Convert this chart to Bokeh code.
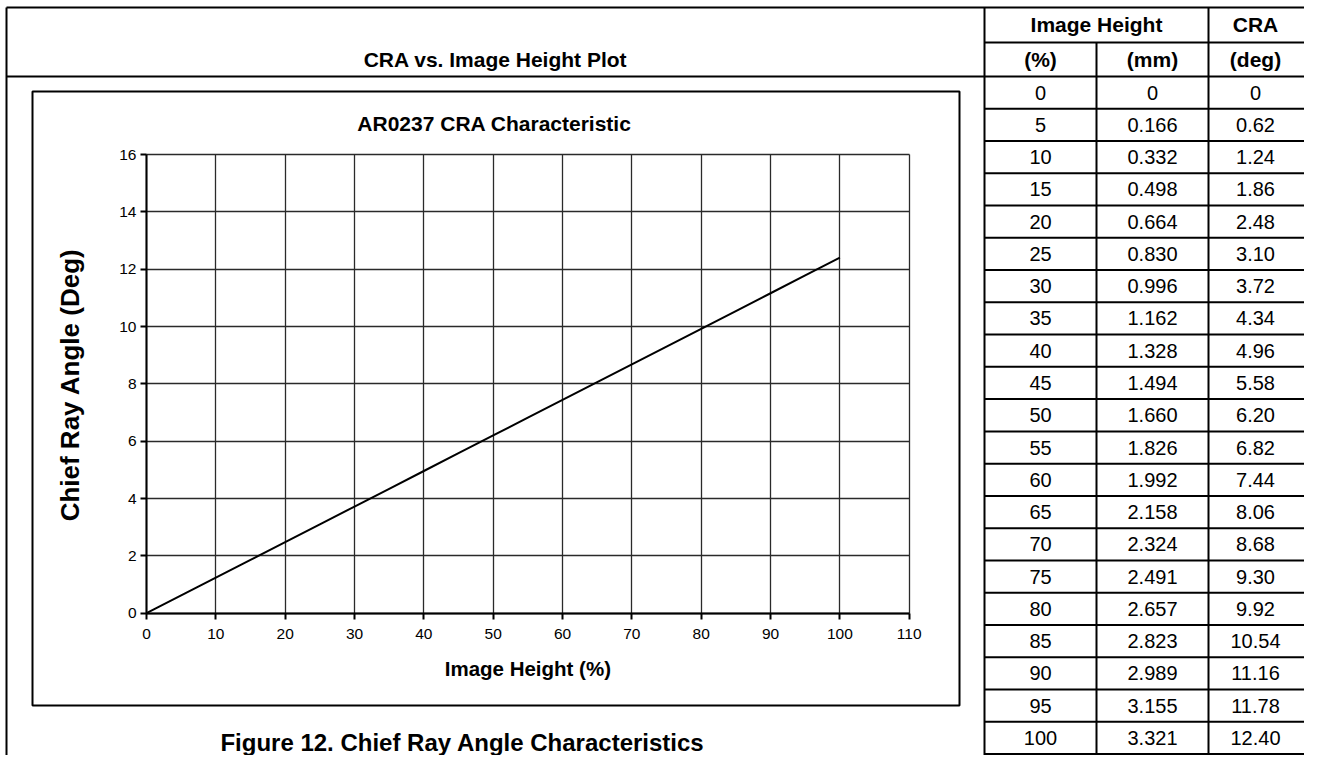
import math
from bokeh.plotting import figure
from bokeh.models import Range1d, LinearAxis, FixedTicker, Grid, Label
from bokeh.core.properties import value
from bokeh.embed import file_html
from bokeh.resources import INLINE

# ---------------- data ----------------
pct = [0, 5, 10, 15, 20, 25, 30, 35, 40, 45, 50, 55, 60, 65, 70, 75, 80, 85, 90, 95, 100]
mm_txt = ["0", "0.166", "0.332", "0.498", "0.664", "0.830", "0.996", "1.162", "1.328", "1.494",
          "1.660", "1.826", "1.992", "2.158", "2.324", "2.491", "2.657", "2.823", "2.989", "3.155", "3.321"]
cra_txt = ["0", "0.62", "1.24", "1.86", "2.48", "3.10", "3.72", "4.34", "4.96", "5.58",
           "6.20", "6.82", "7.44", "8.06", "8.68", "9.30", "9.92", "10.54", "11.16", "11.78", "12.40"]
cra = [float(v) for v in cra_txt]

x_ticks = [0, 10, 20, 30, 40, 50, 60, 70, 80, 90, 100, 110]
y_ticks = [0, 2, 4, 6, 8, 10, 12, 14, 16]

panel_title = "CRA vs. Image Height Plot"
chart_title = "AR0237 CRA Characteristic"
x_label = "Image Height (%)"
y_label = "Chief Ray Angle (Deg)"
caption = "Figure 12. Chief Ray Angle Characteristics"
hdr1 = ["Image Height", "CRA"]
hdr2 = ["(%)", "(mm)", "(deg)"]

# ---------------- layout (page pixels) ----------------
X0, X1 = 0, 1304
Y0, Y1 = 0, 755
W, H = X1 - X0, Y1 - Y0

FL, FR, FT, FB = 146.0, 908.7, 154.0, 612.7   # plot area
XMIN, XMAX, YMIN, YMAX = 0, 110, 0, 16
kx = (FR - FL) / (XMAX - XMIN)
ky = (FB - FT) / (YMAX - YMIN)

FONT = "Liberation Sans"
BLACK = "#000000"

p = figure(width=W, height=H, x_range=Range1d(X0, X1), y_range=Range1d(Y1, Y0),
           x_axis_type=None, y_axis_type=None, toolbar_location=None,
           output_backend="svg", min_border=0, outline_line_color=None,
           background_fill_color="white", border_fill_color="white")
p.extra_x_ranges = {"cx": Range1d(XMIN - (FL - X0) / kx, XMAX + (X1 - FR) / kx)}
p.extra_y_ranges = {"cy": Range1d(YMIN - (Y1 - FB) / ky, YMAX + (FT - Y0) / ky)}

# ---------------- frames / table rules ----------------
TL, TC1, TC2, TR = 984, 1096, 1208, 1330
TBL_TOP, HDR_MID, HDR_BOT = 7, 42, 76
nrows = len(pct)
ROW_H = (753.5 - HDR_BOT) / nrows
row_lines = [HDR_BOT + ROW_H * k for k in range(1, nrows + 1)]

x0s = [6, 6, 6, TL, TL, TC1, TC2] + [TL] * len(row_lines)
y0s = [7, 7, HDR_BOT, 7, HDR_MID, HDR_MID, 7] + row_lines
x1s = [TR, 6, TR, TL, TR, TC1, TC2] + [TR] * len(row_lines)
y1s = [7, 780, HDR_BOT, 780, HDR_MID, 780, 780] + row_lines
p.segment(x0=x0s, y0=y0s, x1=x1s, y1=y1s, line_color=BLACK, line_width=2)
# inner chart box
p.quad(left=[32], right=[959], top=[91], bottom=[705], fill_color=None,
       line_color=BLACK, line_width=2)

# ---------------- chart ----------------
grid_kw = dict(x_range_name="cx", y_range_name="cy", grid_line_color="#2a2a2a",
               grid_line_width=1.3)
has_cross = "cross_bounds" in Grid.properties()
if has_cross:
    xg = Grid(dimension=0, ticker=FixedTicker(ticks=x_ticks), bounds=(XMIN, XMAX),
              cross_bounds=(YMIN, YMAX), **grid_kw)
    yg = Grid(dimension=1, ticker=FixedTicker(ticks=y_ticks), bounds=(YMIN, YMAX),
              cross_bounds=(XMIN, XMAX), **grid_kw)
    p.add_layout(xg)
    p.add_layout(yg)
else:
    p.multi_line(xs=[[t, t] for t in x_ticks] + [[XMIN, XMAX] for t in y_ticks],
                 ys=[[YMIN, YMAX] for t in x_ticks] + [[t, t] for t in y_ticks],
                 x_range_name="cx", y_range_name="cy", line_color="#2a2a2a", line_width=1.3)

p.line(pct, cra, x_range_name="cx", y_range_name="cy", line_color=BLACK, line_width=2)

axis_kw = dict(x_range_name="cx", y_range_name="cy", fixed_location=0,
               axis_line_color=BLACK, axis_line_width=2,
               major_tick_line_color=BLACK, major_tick_line_width=2,
               major_tick_in=0, major_tick_out=6, minor_tick_in=0, minor_tick_out=0,
               major_label_text_font=FONT, major_label_text_font_size="15.5px",
               major_label_text_color=BLACK)
xaxis = LinearAxis(bounds=(XMIN, XMAX), ticker=FixedTicker(ticks=x_ticks),
                   major_label_standoff=10, **axis_kw)
yaxis = LinearAxis(bounds=(YMIN, YMAX), ticker=FixedTicker(ticks=y_ticks),
                   major_label_standoff=4, **axis_kw)
p.add_layout(xaxis, "below")
p.add_layout(yaxis, "left")

# ---------------- texts ----------------
def lab(x, y, text, size, bold=True, angle=0.0, align="center"):
    p.add_layout(Label(x=x, y=y, text=text, text_font=FONT, text_font_size=size,
                       text_font_style="bold" if bold else "normal", text_color=BLACK,
                       text_align=align, text_baseline="middle", angle=angle))

lab(495, 59, panel_title, "21px")
lab(494, 123, chart_title, "21px")
lab((FL + FR) / 2, 668, x_label, "20.5px")
lab(69, (FT + FB) / 2 + 1, y_label, "26px", angle=math.pi / 2)
lab(462, 742, caption, "24px")

# table header
lab((TL + TC2) / 2, 24, hdr1[0], "21px")
lab(1255, 24, hdr1[1], "21px")
col_x = [1040, 1152, 1255]
for cx_, t in zip(col_x, hdr2):
    lab(cx_, 59, t, "21px")

row_y = [HDR_BOT + ROW_H * (i + 0.5) for i in range(nrows)]
for cx_, col in zip(col_x, [[str(v) for v in pct], mm_txt, cra_txt]):
    p.text(x=[cx_] * nrows, y=row_y, text=col, text_font=value(FONT),
           text_font_size="20px", text_color=BLACK, text_align="center",
           text_baseline="middle")

open("out.html", "w").write(file_html(p, INLINE))
